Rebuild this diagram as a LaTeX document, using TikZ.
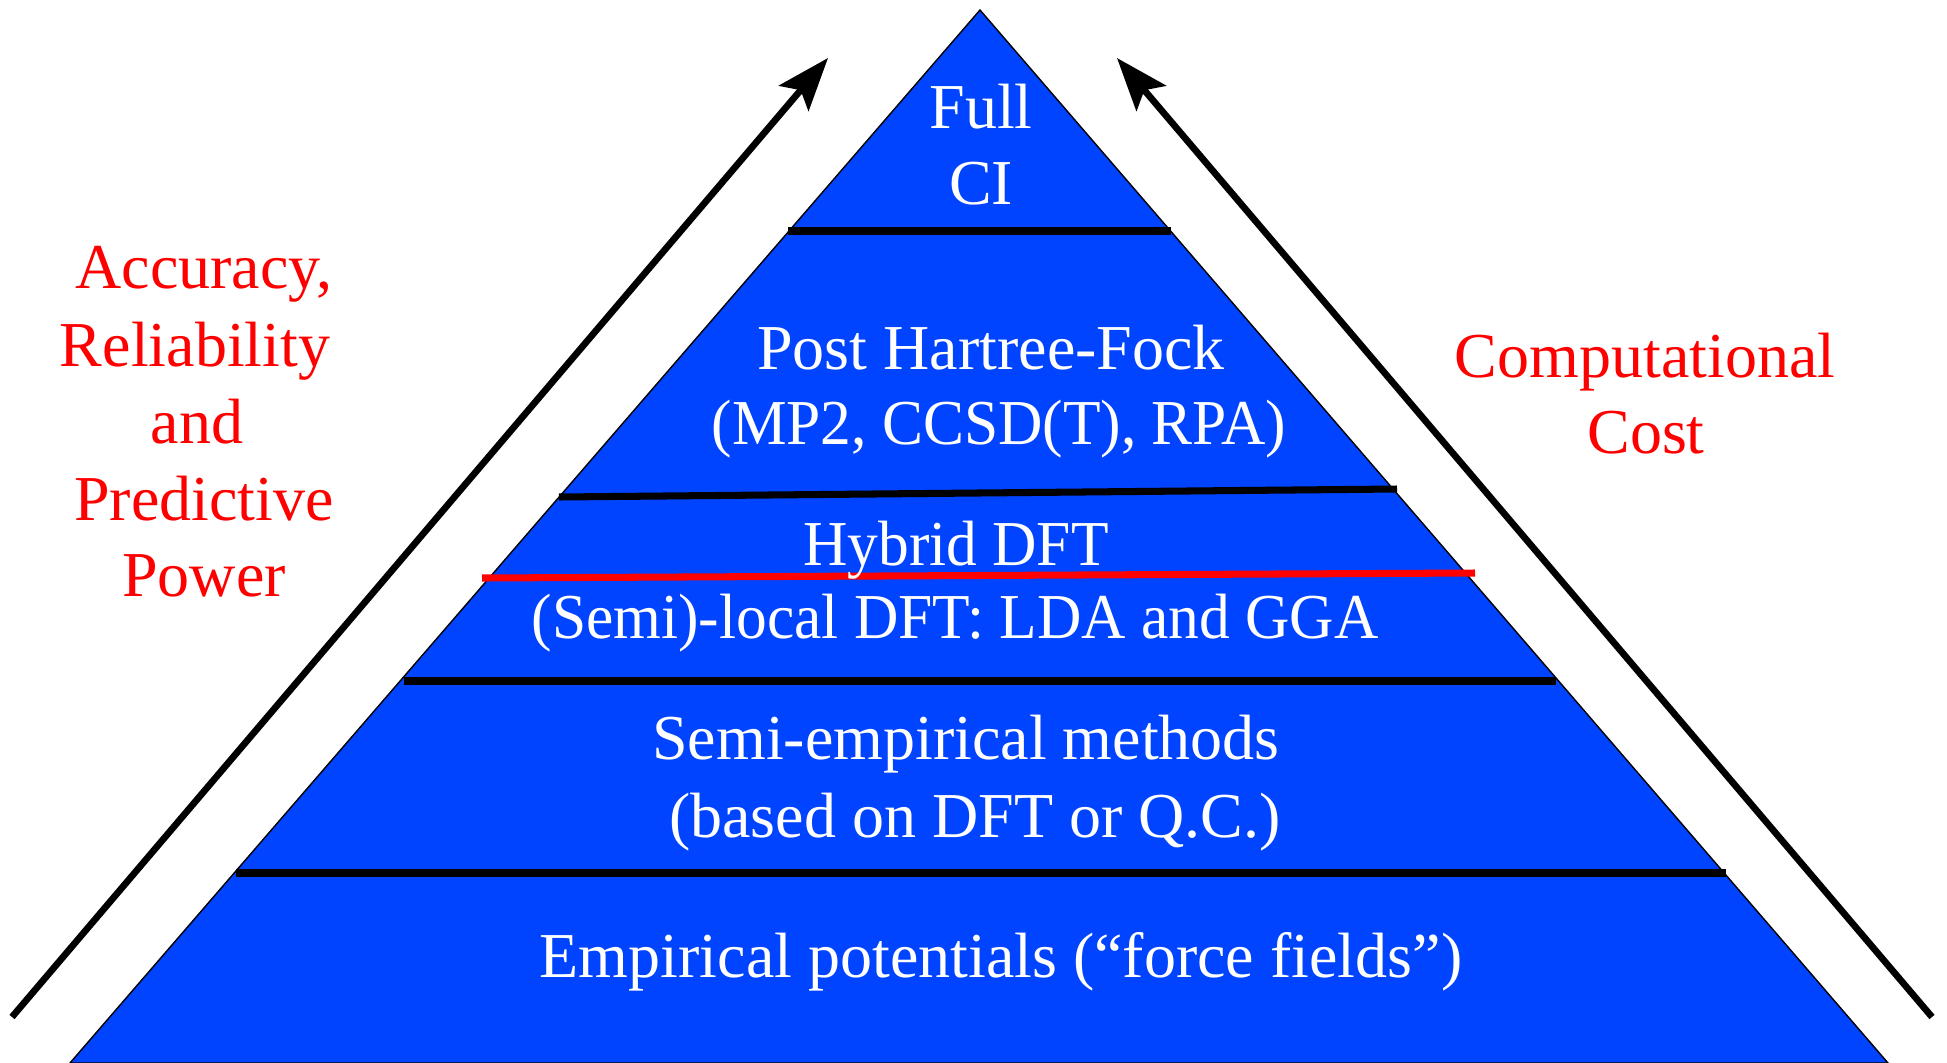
\documentclass[tikz,border=0pt]{standalone}
\usepackage{fontspec}
\setmainfont{Liberation Serif}
\newfontfamily\narrowserif[FakeStretch=0.96]{Liberation Serif}
\usetikzlibrary{arrows.meta}
\definecolor{pyrblue}{RGB}{0,68,255}
\definecolor{pyrred}{RGB}{255,0,0}

\begin{document}
\begin{tikzpicture}[x=0.01cm,y=-0.01cm,
    tier/.style={text=white,font=\fontsize{18.2}{21.6}\selectfont,inner sep=0pt,anchor=base},
    narrowtier/.style={tier,font=\narrowserif\fontsize{18.2}{21.6}\selectfont},
    sidetext/.style={text=pyrred,font=\fontsize{18.2}{21.6}\selectfont,inner sep=0pt,anchor=base},
    divider/.style={line width=2pt},
    trend/.style={line width=1.9pt,-{Stealth[length=15pt,width=11pt,inset=3pt]}}]
            \useasboundingbox (0,0) rectangle (1947,1063);
            \coordinate (apex) at (980,10);
            \coordinate (baseL) at (70,1063);
            \coordinate (baseR) at (1888,1063);
            \filldraw[fill=pyrblue,draw=black,line width=0.4pt] (apex) -- (baseR) -- (baseL) -- cycle;
            \coordinate (d1L) at (788,231);
            \coordinate (d1R) at (1171,231);
            \coordinate (d2L) at (559,497);
            \coordinate (d2R) at (1397,489);
            \coordinate (d3L) at (482,578);
            \coordinate (d3R) at (1475,573);
            \coordinate (d4L) at (404,681);
            \coordinate (d4R) at (1556,681);
            \coordinate (d5L) at (236,873);
            \coordinate (d5R) at (1726,873);
            \draw[divider] (d1L) -- (d1R);
            \draw[divider] (d2L) -- (d2R);
            \draw[divider,pyrred] (d3L) -- (d3R);
            \draw[divider] (d4L) -- (d4R);
            \draw[divider] (d5L) -- (d5R);
            \node[tier] (full) at (981,128) {Full};
            \node[tier] (ci) at (981,204) {CI};
            \node[tier] (post) at (991,369) {Post Hartree-Fock};
            \node[narrowtier] (postlist) at (999,444) {(MP2, CCSD(T), RPA)};
            \node[narrowtier] (hybrid) at (956,565) {Hybrid DFT};
            \node[narrowtier] (semilocal) at (955,638) {(Semi)-local DFT: LDA and GGA};
            \node[tier] (semiemp) at (966,759) {Semi-empirical methods};
            \node[tier] (basedon) at (975,837) {(based on DFT or Q.C.)};
            \node[tier] (empirical) at (1001,977) {Empirical potentials (“force fields”)};
            \node[sidetext] (accuracy) at (204,288) {Accuracy,};
            \node[sidetext] (reliability) at (195,366) {Reliability};
            \node[sidetext] (and) at (197,443) {and};
            \node[sidetext] (predictive) at (204,520) {Predictive};
            \node[sidetext] (power) at (204,596) {Power};
            \node[sidetext] (computational) at (1645,377) {Computational};
            \node[sidetext] (cost) at (1646,453) {Cost};
            \coordinate (accTail) at (12,1017);
            \coordinate (accTip) at (828,58);
            \coordinate (costTail) at (1932,1017);
            \coordinate (costTip) at (1117,58);
            \draw[trend] (accTail) -- (accTip);
            \draw[trend] (costTail) -- (costTip);
        \end{tikzpicture}
\end{document}
